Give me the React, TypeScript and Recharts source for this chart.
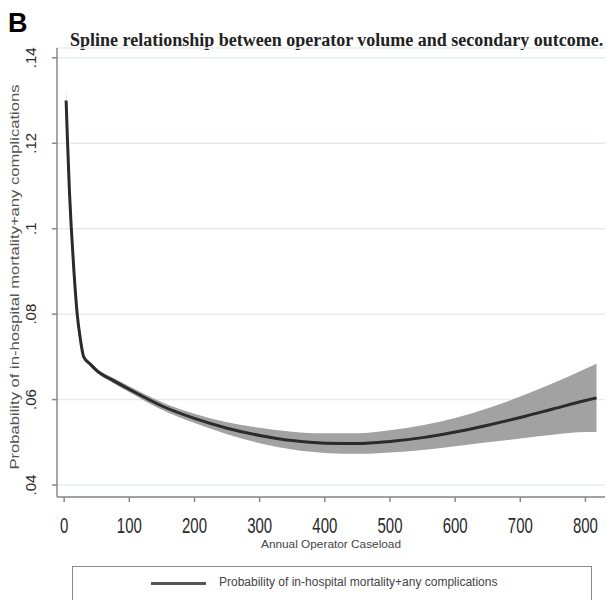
import React from 'react';
import { ComposedChart, XAxis, YAxis, CartesianGrid, Line, Area } from 'recharts';

// values
const caseload = [3, 5, 8, 11, 15, 20, 25, 30, 40, 50, 75, 100, 150, 200, 250, 300, 350, 400, 450, 500, 550, 600, 650, 700, 750, 800, 817];
const fitted = [0.13, 0.121, 0.109, 0.1, 0.09, 0.08, 0.074, 0.07, 0.0683, 0.0668, 0.0645, 0.0624, 0.0585, 0.0556, 0.0533, 0.0516, 0.0504, 0.0498, 0.0497, 0.0502, 0.0511, 0.0524, 0.054, 0.0558, 0.0578, 0.0598, 0.0604];
const lower = [0.1275, 0.1195, 0.108, 0.0992, 0.0894, 0.0795, 0.0735, 0.0695, 0.0678, 0.0663, 0.0639, 0.0617, 0.0576, 0.0545, 0.0519, 0.0498, 0.0483, 0.0475, 0.0473, 0.0476, 0.0482, 0.0491, 0.05, 0.0509, 0.0518, 0.0524, 0.0524];
const upper = [0.1325, 0.1225, 0.11, 0.1008, 0.0906, 0.0805, 0.0745, 0.0705, 0.0688, 0.0673, 0.0651, 0.0631, 0.0594, 0.0567, 0.0547, 0.0534, 0.0525, 0.0521, 0.0521, 0.0528, 0.054, 0.0557, 0.058, 0.0607, 0.0638, 0.0672, 0.0684];

const xTicks = [0, 100, 200, 300, 400, 500, 600, 700, 800];
const yTicks = [0.04, 0.06, 0.08, 0.1, 0.12, 0.14];

const seriesName = 'Probability of in-hospital mortality+any complications';

const data = caseload.map((c, i) => ({
  caseload: c,
  fit: fitted[i],
  band: [lower[i], upper[i]],
}));

const fmtY = (v: number) => {
  // Stata style: .04, .1, .12
  return String(Number(v.toFixed(2))).replace(/^0/, '');
};

// the printed figure is stretched vertically, so the x labels are too
const XTick = ({ x, y, payload }: any) => (
  <text x={0} y={0} textAnchor="middle" fontSize={15} fill="#2a2a2a"
    fontFamily="Liberation Sans, Arial, sans-serif"
    transform={`translate(${x}, ${y + 29}) scale(1, 1.5)`}>
    {payload.value}
  </text>
);

const YTick = ({ x, y, payload }: any) => (
  <text x={x - 14} y={y} textAnchor="middle" fontSize={15} fill="#2a2a2a"
    fontFamily="Liberation Sans, Arial, sans-serif"
    transform={`rotate(-90, ${x - 14}, ${y})`}>
    {fmtY(payload.value)}
  </text>
);

const YLabel = () => {
  const cx = 15;
  const cy = 277;
  return (
    <text x={cx} y={cy} textAnchor="middle" dominantBaseline="central" fontSize={12.5} fill="#555"
      fontFamily="Liberation Sans, Arial, sans-serif" textLength={385} lengthAdjust="spacingAndGlyphs"
      transform={`rotate(-90, ${cx}, ${cy})`}>
      {seriesName}
    </text>
  );
};

const XLabel = ({ viewBox }: any) => (
  <text x={viewBox.x + viewBox.width / 2} y={548} textAnchor="middle" fontSize={11.5} fill="#444"
    fontFamily="Liberation Sans, Arial, sans-serif" textLength={140} lengthAdjust="spacingAndGlyphs">
    Annual Operator Caseload
  </text>
);

export default function App() {
  return (
    <div style={{ position: 'absolute', left: 0, top: 0, width: 609, height: 600, background: '#fff', overflow: 'hidden' }}>
      <div style={{ position: 'absolute', left: 8, top: 8, fontSize: 27, fontWeight: 700, fontFamily: 'Liberation Sans, Arial, sans-serif', lineHeight: '30px' }}>B</div>
      <div style={{ position: 'absolute', left: 70, top: 29, fontSize: 18, fontWeight: 700, fontFamily: 'Liberation Serif, serif', color: '#222', whiteSpace: 'nowrap', lineHeight: '22px' }}>
        Spline relationship between operator volume and secondary outcome.
      </div>
      <ComposedChart width={609} height={600} data={data} margin={{ top: 48, right: 4, bottom: 0, left: 0 }}>
        <CartesianGrid vertical={false} stroke="#e6ecec" strokeWidth={1.5} />
        <XAxis dataKey="caseload" type="number" domain={[-11, 830]} ticks={xTicks} allowDataOverflow
          stroke="#888" strokeWidth={1.5} tickSize={5} tick={<XTick />} height={103} label={<XLabel />} />
        <YAxis type="number" domain={[0.0372, 0.1423]} ticks={yTicks} allowDataOverflow width={57}
          stroke="#888" strokeWidth={1.5} tickSize={5} tick={<YTick />} label={<YLabel />} />
        <Area type="monotone" dataKey="band" stroke="none" fill="#a2a2a2" fillOpacity={1} isAnimationActive={false} />
        <Line type="monotone" dataKey="fit" stroke="#2b2b2b" strokeWidth={3} dot={false} isAnimationActive={false} />
      </ComposedChart>
      <div style={{ position: 'absolute', left: 72, top: 566, width: 520, height: 44, border: '1.5px solid #8a8a8a', boxSizing: 'border-box' }}>
        <div style={{ position: 'absolute', left: 78, top: 15, width: 55, height: 3, background: '#555' }} />
        <div style={{ position: 'absolute', left: 146, top: 8, fontSize: 12, color: '#444', fontFamily: 'Liberation Sans, Arial, sans-serif', whiteSpace: 'nowrap' }}>
          {seriesName}
        </div>
      </div>
    </div>
  );
}
